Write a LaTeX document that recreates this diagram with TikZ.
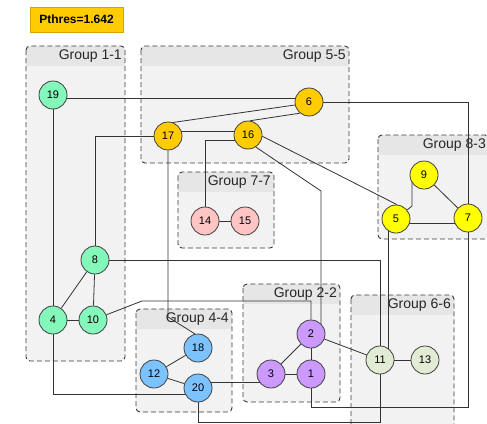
\documentclass[tikz,border=0pt]{standalone}
\usepackage{fontspec}
\setmainfont{Liberation Sans}
\usetikzlibrary{calc}
\pgfdeclarelayer{groups}
\pgfdeclarelayer{links}
\pgfsetlayers{groups,links,main}

\definecolor{grpbody}{HTML}{F2F2F2}
\definecolor{grphead}{HTML}{E6E6E6}
\definecolor{cmint}{HTML}{84F8BA}
\definecolor{cgold}{HTML}{FFCC00}
\definecolor{cyel}{HTML}{FFFF00}
\definecolor{cpink}{HTML}{FFC4C4}
\definecolor{cblue}{HTML}{7CC2FF}
\definecolor{cviolet}{HTML}{CC99FF}
\definecolor{csage}{HTML}{E2ECD4}
\definecolor{pthresrim}{HTML}{D9A400}

\tikzset{
  vtx/.style={circle, draw=black!75, line width=0.8pt, minimum size=28pt,
    inner sep=0pt, font=\fontsize{11}{12}\selectfont},
  link/.style={draw=black!80, line width=0.8pt},
  grpframe/.style={draw=black!78, dash pattern=on 5pt off 3pt,
    line width=0.9pt, rounded corners=4pt},
  grplabel/.style={anchor=east, inner sep=0pt,
    font=\fontsize{14}{16}\selectfont, text=black!85},
}

% #1 name, #2..#5 corners (x1,y1,x2,y2), #6 caption
\newcommand\drawgroup[6]{%
  \begin{pgfonlayer}{groups}
    \fill[grpbody, rounded corners=4pt] (#2,#3) rectangle (#4,#5);
    \begin{scope}
      \clip[rounded corners=4pt] (#2,#3) rectangle (#4,#5);
      \fill[grphead] (#2,#3) rectangle (#4,{#3+20});
    \end{scope}
    \draw[grpframe] (#2,#3) rectangle (#4,#5);
    \node[grplabel] (#1) at ({#4-3},{#3+10.5}) {#6};
  \end{pgfonlayer}}

\begin{document}
\begin{tikzpicture}[x=1pt, y=-1pt]
\useasboundingbox (0,0) rectangle (487,423);

% threshold badge
\node[draw=pthresrim, fill=cgold, line width=0.6pt, minimum width=93pt,
  minimum height=25pt, inner sep=0pt, font=\bfseries\fontsize{12}{14}\selectfont]
  (pthres) at (76.5,19.5) {Pthres=1.642};

% clusters
\drawgroup{g11}{26}{46}{125}{361}{Group 1-1}
\drawgroup{g55}{141}{46}{349}{163}{Group 5-5}
\drawgroup{g77}{178}{172}{274}{248}{Group 7-7}
\drawgroup{g83}{378}{135}{489}{239}{Group 8-3}
\drawgroup{g44}{136}{309}{232}{412}{Group 4-4}
\drawgroup{g22}{243}{284}{340}{402}{Group 2-2}
\drawgroup{g66}{351}{295}{454}{430}{Group 6-6}

% vertices
\node[vtx, fill=cmint] (n19) at (53,95) {19};
\node[vtx, fill=cmint] (n8) at (95,260) {8};
\node[vtx, fill=cmint] (n4) at (53,320) {4};
\node[vtx, fill=cmint] (n10) at (93,320) {10};

\node[vtx, fill=cgold] (n17) at (168,136) {17};
\node[vtx, fill=cgold] (n16) at (248,135) {16};
\node[vtx, fill=cgold] (n6) at (309,102) {6};

\node[vtx, fill=cyel] (n9) at (424,175) {9};
\node[vtx, fill=cyel] (n5) at (396,219) {5};
\node[vtx, fill=cyel] (n7) at (468,218) {7};

\node[vtx, fill=cpink] (n14) at (205,221) {14};
\node[vtx, fill=cpink] (n15) at (245,221) {15};

\node[vtx, fill=cblue] (n18) at (198,348) {18};
\node[vtx, fill=cblue] (n12) at (154,374) {12};
\node[vtx, fill=cblue] (n20) at (198,388) {20};

\node[vtx, fill=cviolet] (n2) at (311,334) {2};
\node[vtx, fill=cviolet] (n3) at (271,374) {3};
\node[vtx, fill=cviolet] (n1) at (311,374) {1};

\node[vtx, fill=csage] (n11) at (380,360) {11};
\node[vtx, fill=csage] (n13) at (425,360) {13};

% connectors
\begin{pgfonlayer}{links}
\draw[link] ($(n19)+(0,3)$) -- ($(n6)+(0,-4)$);
\draw[link] (n6) -| (n7);
\draw[link] (n19) -- (n4);
\draw[link] (n17.70) -- (n6.192);
\draw[link] (n16.82) -- (n6.231);
\draw[link] ($(n17)+(0,-5)$) -- ($(n16)+(0,-4)$);
\draw[link] (n17) -| (n8);
\draw[link] (n17) -- (n17 |- 0,317) -- (n18.102);
\draw[link] ($(n16)+(0,5)$) -| (n14);
\draw[link] (n16.-5) -- (n5.86);
\draw[link] (n16.-57) -- ($(n2)+(10,-143)$) -- ($(n2)+(10,0)$);
\draw[link] (n14) -- (n15);
\draw[link] ($(n9)+(-12,0)$) -- ($(n9)+(-12,31)$) -- (n5);
\draw[link] (n9) -- (n7);
\draw[link] ($(n5)+(0,4)$) -- ($(n7)+(0,5)$);
\draw[link] ($(n5)+(-8,0)$) -- ($(n11)+(8,0)$);
\draw[link] (n8) -- (n4);
\draw[link] (n8) -- (n10);
\draw[link] (n4) -- (n10);
\draw[link] (n8) -| (n11);
\draw[link] (n10) -- (142,301) -| (n2);
\draw[link] (n4) |- ($(n20)+(0,6)$);
\draw[link] (n12) -- (n18);
\draw[link] (n12) -- (n20);
\draw[link] ($(n20)+(0,-6)$) -- ($(n3)+(0,8)$);
\draw[link] (n20) -- (n20 |- 0,422) -| (n11);
\draw[link] (n2) -- (n11);
\draw[link] (n2) -- (n1);
\draw[link] (n2) -- (n3);
\draw[link] (n3) -- (n1);
\draw[link] (n1) -- (n1 |- 0,407) -| (n7);
\draw[link] (n11) -- (n13);
\end{pgfonlayer}
\end{tikzpicture}
\end{document}
